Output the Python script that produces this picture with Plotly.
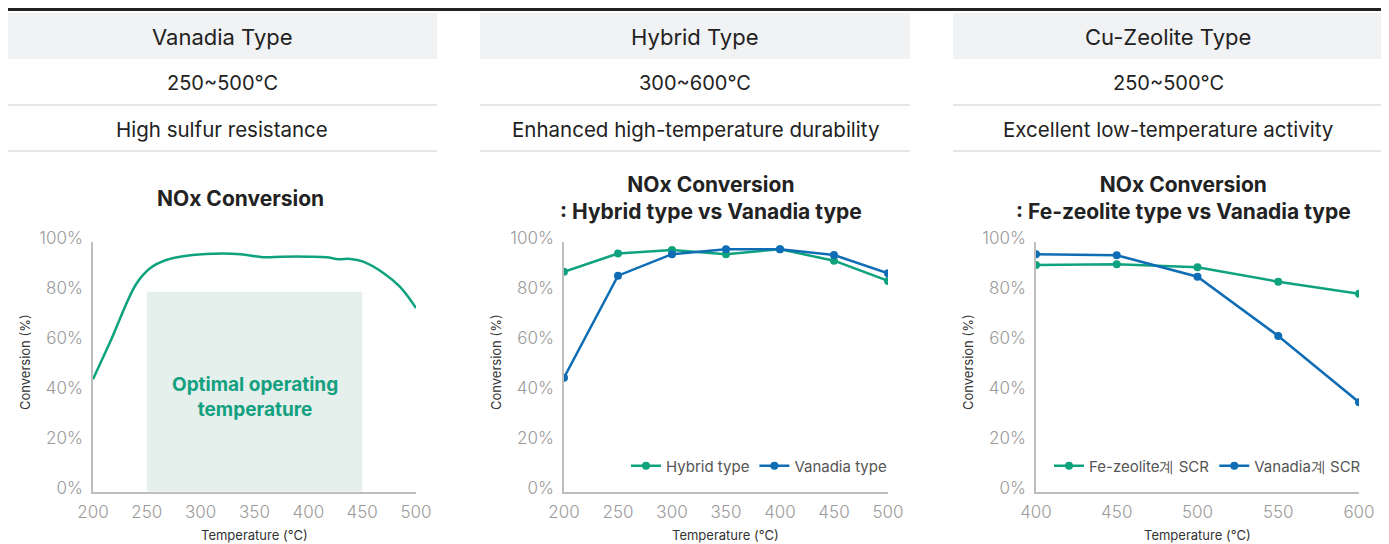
import plotly.graph_objects as go

# the page puts the figure 8px in from the top-left corner
OFF = 8
W, H = 1389 - OFF, 544 - OFF

# header table text
types = ['Vanadia Type', 'Hybrid Type', 'Cu-Zeolite Type']
temp_ranges = ['250~500°C', '300~600°C', '250~500°C']
features = ['High sulfur resistance', 'Enhanced high-temperature durability', 'Excellent low-temperature activity']

# y ticks shared by all three charts
y_ticks = [0, 20, 40, 60, 80, 100]
y_tick_labels = ['0%', '20%', '40%', '60%', '80%', '100%']

# chart 1: vanadia curve
v_temp = [200, 216, 240, 253, 268, 287, 312, 337, 358, 376, 401, 417, 428, 439, 451, 470, 485, 500]
v_conv = [45, 60, 83, 89.4, 92.7, 94.4, 95.2, 95, 93.8, 94, 94, 93.8, 93, 93.1, 92, 87.4, 82, 73.5]
optimal_range = [250, 450]
optimal_top = 80

# chart 2: hybrid vs vanadia
c2_temp = [200, 250, 300, 350, 400, 450, 500]
hybrid_conv = [88, 95.3, 96.7, 95, 97, 92.4, 84.3]
vanadia_conv2 = [45.6, 86.4, 95, 97, 97, 94.7, 87.4]

# chart 3: fe-zeolite vs vanadia
c3_temp = [400, 450, 500, 550, 600]
fe_conv = [90.7, 91, 89.8, 84, 79.2]
vanadia_conv3 = [95, 94.6, 86, 62.3, 35.8]

GREEN = '#0ea27e'
BLUE = '#0f6db6'
FONT = 'Inter'

# screen pixel -> paper fraction
def px(x):
    return (x - OFF) / W

def py(y):
    return 1 - (y - OFF) / H

fig = go.Figure()

fig.add_trace(go.Scatter(x=v_temp, y=v_conv, mode='lines', line=dict(color=GREEN, width=2.5, shape='spline', smoothing=1.0),
                         showlegend=False, xaxis='x', yaxis='y'))

fig.add_trace(go.Scatter(x=c2_temp, y=hybrid_conv, name='Hybrid type', mode='lines+markers',
                         line=dict(color=GREEN, width=2.5), marker=dict(size=8, color=GREEN),
                         xaxis='x2', yaxis='y2', legend='legend'))
fig.add_trace(go.Scatter(x=c2_temp, y=vanadia_conv2, name='Vanadia type', mode='lines+markers',
                         line=dict(color=BLUE, width=2.5), marker=dict(size=8, color=BLUE),
                         xaxis='x2', yaxis='y2', legend='legend'))

fig.add_trace(go.Scatter(x=c3_temp, y=fe_conv, name='Fe-zeolite계 SCR', mode='lines+markers',
                         line=dict(color=GREEN, width=2.5), marker=dict(size=8, color=GREEN),
                         xaxis='x3', yaxis='y3', legend='legend2'))
fig.add_trace(go.Scatter(x=c3_temp, y=vanadia_conv3, name='Vanadia계 SCR', mode='lines+markers',
                         line=dict(color=BLUE, width=2.5), marker=dict(size=8, color=BLUE),
                         xaxis='x3', yaxis='y3', legend='legend2'))

# plot areas (screen pixel bounds)
plots = [(93, 416, [200, 500], [200, 250, 300, 350, 400, 450, 500]),
         (564, 888, [200, 500], [200, 250, 300, 350, 400, 450, 500]),
         (1036, 1359, [400, 600], [400, 450, 500, 550, 600])]
top, bottom = 241.7, 491.7

tick_font = dict(family=FONT, size=17, color='#9a9a9a', weight=300)
layout = {}
for i, (x0, x1, xr, xt) in enumerate(plots):
    sfx = '' if i == 0 else str(i + 1)
    layout['xaxis' + sfx] = dict(domain=[px(x0), px(x1)], range=xr, tickmode='array', tickvals=xt,
                                 showgrid=False, zeroline=False, automargin=False,
                                 showline=True, linecolor='#bdbdbd', linewidth=1.5, tickfont=tick_font,
                                 anchor='y' + sfx, ticklabelstandoff=4, fixedrange=True)
    layout['yaxis' + sfx] = dict(domain=[py(bottom), py(top)], range=[0, 100], tickmode='array',
                                 tickvals=y_ticks, ticktext=y_tick_labels, automargin=False,
                                 showgrid=False, zeroline=False, showline=True, linecolor='#bdbdbd',
                                 linewidth=1.5, tickfont=tick_font, anchor='x' + sfx, ticklabelstandoff=5,
                                 ticklabelshift=-4, fixedrange=True)

shapes = []
annotations = []

def note(text, x, y, size, color='#222222', weight='normal', angle=0, ref='paper'):
    xx, yy = (px(x), py(y)) if ref == 'paper' else (x, y)
    xref, yref = ('paper', 'paper') if ref == 'paper' else ('x', 'y')
    annotations.append(dict(text=text, x=xx, y=yy, xref=xref, yref=yref, showarrow=False,
                            xanchor='center', yanchor='middle', align='center', textangle=angle,
                            font=dict(family=FONT, size=size, color=color, weight=weight)))

# top black rule (as high as the figure allows)
shapes.append(dict(type='line', xref='paper', yref='paper', x0=0, x1=px(1385), y0=py(9.5), y1=py(9.5),
                   line=dict(color='#222222', width=3)))

header_cols = [(7, 437), (480, 910), (953, 1383)]
for (x0, x1), t, r, f in zip(header_cols, types, temp_ranges, features):
    shapes.append(dict(type='rect', xref='paper', yref='paper', x0=px(x0), x1=px(x1), y0=py(59), y1=py(13),
                       fillcolor='#f1f2f4', line=dict(width=0), layer='below'))
    for yy in [105, 151]:
        shapes.append(dict(type='line', xref='paper', yref='paper', x0=px(x0), x1=px(x1), y0=py(yy), y1=py(yy),
                           line=dict(color='#dedede', width=1.5)))
    cx = (x0 + x1) / 2
    note(t, cx, 37, 22)
    note(r, cx, 83, 20)
    note(f, cx, 129, 20.5)

# optimal operating range box on chart 1
shapes.append(dict(type='rect', xref='x', yref='y', x0=optimal_range[0], x1=optimal_range[1], y0=0, y1=optimal_top,
                   fillcolor='#e5efec', line=dict(width=0), layer='below'))
note('Optimal operating<br>temperature', sum(optimal_range) / 2, 38, 19, color='#12a07f', weight='bold', ref='data')

# chart titles
titles = [('NOx Conversion', 240), ('NOx Conversion<br>: Hybrid type vs Vanadia type', 711),
          ('NOx Conversion<br>: Fe-zeolite type vs Vanadia type', 1183)]
for t, cx in titles:
    note(t, cx, 198, 21, weight='bold')

# axis titles
for x0, x1, _, _ in plots:
    note('Temperature (°C)', (x0 + x1) / 2, 535, 13, color='#333333')
    note('Conversion (%)', x0 - 68, 362, 13, color='#333333', angle=-90)

legend_style = dict(orientation='h', xanchor='right', yanchor='middle', bgcolor='rgba(0,0,0,0)',
                    font=dict(family=FONT, size=15, color='#555555'), itemwidth=30, tracegroupgap=0)

fig.update_layout(
    width=W, height=H,
    margin=dict(l=0, r=0, t=0, b=0, pad=0, autoexpand=False),
    paper_bgcolor='white', plot_bgcolor='white',
    shapes=shapes, annotations=annotations,
    legend=dict(x=px(892), y=py(466), **legend_style),
    legend2=dict(x=px(1366), y=py(466), **legend_style),
    **layout,
)

fig.write_html("out.html")
